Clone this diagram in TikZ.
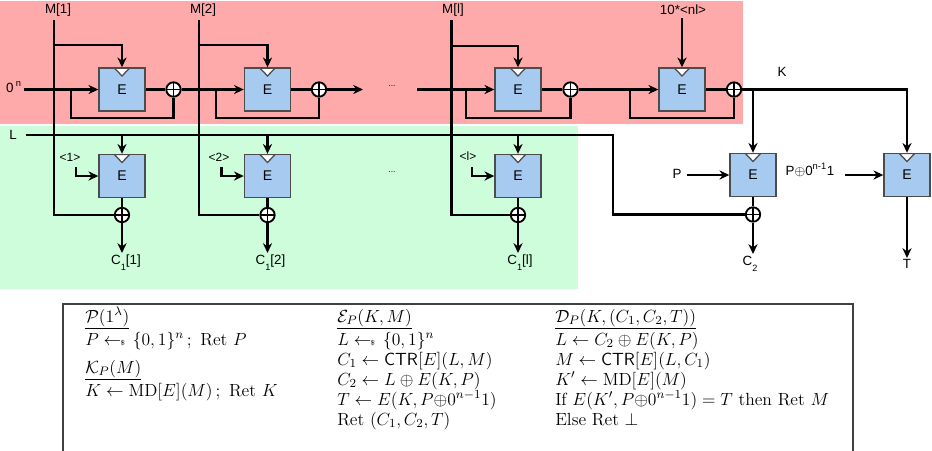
\RequirePackage{fix-cm}
\documentclass[tikz,border=0pt]{standalone}
\usepackage{amsmath,amssymb}
\usepackage{fontspec}
\usepackage{tikz}
\usetikzlibrary{arrows.meta}
\newfontfamily\diagfont{Liberation Sans}
\definecolor{mdred}{RGB}{255,170,170}
\definecolor{ctrgreen}{RGB}{206,253,220}
\definecolor{eblue}{RGB}{166,202,240}
\newcommand{\getsrand}{\mathrel{\leftarrow\!\!\mbox{\tiny\$}\,}}
\newcommand{\sub}[1]{\raisebox{-0.9ex}{\fontsize{6.5}{7}\selectfont #1}}
\newcommand{\algtitle}[1]{\underline{\smash[b]{#1}\vphantom{\rule[-3pt]{0pt}{1pt}}}}

\tikzset{
  ebox/.style={draw=black!70, fill=eblue, line width=1pt,
    minimum width=1.15cm, minimum height=1.075cm,
    font=\diagfont\fontsize{10}{12}\selectfont,
    path picture={\draw[fill=white, line width=0.9pt]
      ([xshift=-0.19cm]path picture bounding box.north) --
      ([xshift=0.19cm]path picture bounding box.north) --
      ([yshift=-0.2cm]path picture bounding box.north) -- cycle;}},
  xorop/.style={circle, draw, fill=white, line width=1.3pt, inner sep=0pt,
    minimum size=0.36cm,
    path picture={\draw[line width=1.3pt]
      (path picture bounding box.north) -- (path picture bounding box.south)
      (path picture bounding box.west) -- (path picture bounding box.east);}},
  lbl/.style={font=\diagfont\fontsize{9.5}{11}\selectfont, inner sep=1pt},
  cnt/.style={font=\diagfont\fontsize{8.5}{10}\selectfont, inner sep=1pt},
  tbl/.style={anchor=base west, inner sep=0pt, font=\fontsize{12.5}{15}\selectfont}
}

\begin{document}
\begin{tikzpicture}[x=0.025cm,y=-0.025cm]
\useasboundingbox (0,0) rectangle (932,450);

% backgrounds
\fill[mdred] (0,1) rectangle (743,124);
\fill[ctrgreen] (0,126) rectangle (578,289);

\begin{scope}
	% MD chain
	\node[ebox] (md1) at (122,89.5) {E};
	\node[ebox] (md2) at (267.5,89.5) {E};
	\node[ebox] (mdl) at (518,89.5) {E};
	\node[ebox] (mdf) at (682,89.5) {E};
	\node[xorop] (xm1) at (173.5,89.5) {};
	\node[xorop] (xm2) at (319,89.5) {};
	\node[xorop] (xml) at (570.5,89.5) {};
	\node[xorop] (xmf) at (734,89.5) {};

	% CTR part
	\node[ebox] (ct1) at (122,176) {E};
	\node[ebox] (ct2) at (267.5,176) {E};
	\node[ebox] (ctl) at (518,176) {E};
	\node[xorop] (xc1) at (122,215) {};
	\node[xorop] (xc2) at (267.5,215) {};
	\node[xorop] (xcl) at (518,215) {};

	% key wrap and tag
	\node[ebox] (ep) at (753,175) {E};
	\node[ebox] (et) at (907,175) {E};
	\node[xorop] (xp) at (753,214.5) {};

	% labels
	\node[lbl] (m1) at (58,10) {M[1]};
	\node[lbl] (m2) at (203,10) {M[2]};
	\node[lbl] (ml) at (453,10) {M[l]};
	\node[lbl] (pad) at (683,10) {10*<nl>};
	\node[lbl] (zero) at (14,87) {0\,\textsuperscript{n}};
	\node[lbl] (ll) at (13,135) {L};
	\node[cnt] (n1) at (70,157) {<1>};
	\node[cnt] (n2) at (219,157) {<2>};
	\node[cnt] (nl) at (468,156) {<l>};
	\node[cnt] (dt) at (392,86) {\fontsize{6}{7}\selectfont ...};
	\node[cnt] (db) at (392,172) {\fontsize{6}{7}\selectfont ...};
	\node[lbl] (kl) at (782,72) {K};
	\node[lbl] (pl) at (677,174) {P};
	\node[lbl] (ppad) at (810,170) {P$\oplus$0\textsuperscript{n-1}1};
	\node[lbl, anchor=north] (o1) at (126,253) {C\sub{1}[1]};
	\node[lbl, anchor=north] (o2) at (270.5,253) {C\sub{1}[2]};
	\node[lbl, anchor=north] (ol) at (520,253) {C\sub{1}[l]};
	\node[lbl, anchor=north] (oc2) at (750,254) {C\sub{2}};
	\node[lbl, anchor=north] (ot) at (907,258) {T};

	% free ends
	\coordinate (m1t) at (54,20);
	\coordinate (m2t) at (199,20);
	\coordinate (mlt) at (451.5,20);
	\coordinate (m1b) at (54,45);
	\coordinate (m2b) at (199,45);
	\coordinate (mlb) at (451.5,46);
	\coordinate (padt) at (682,18);
	\coordinate (in0) at (24,89.5);
	\coordinate (fb1) at (71,89.5);
	\coordinate (fb2) at (216,89.5);
	\coordinate (fb3) at (466,89.5);
	\coordinate (fb4) at (630,89.5);
	\coordinate (da) at (363,89.5);
	\coordinate (dbb) at (417,89.5);
	\coordinate (lin) at (26,135);
	\coordinate (lturn) at (613,135);
	\coordinate (c1b) at (76,167);
	\coordinate (c2b) at (221.5,167);
	\coordinate (clb) at (472,167);
	\coordinate (pin) at (687,175);
	\coordinate (ppin) at (845,175);
\end{scope}

\begin{scope}[>={Stealth[length=7pt,width=6.5pt]}, line width=1.5pt,
  every edge/.style={draw=black, line width=1.5pt}]

	% MD chain
	\path [->] (in0) edge (md1.west);
	\path [->] (padt) edge (mdf.north);
	\path (md1) edge (xm1);
	\path (md2) edge (xm2);
	\path (mdl) edge (xml);
	\path (mdf) edge (xmf);
	\path [->] (xm1) edge (md2);
	\path [->] (xm2) edge (da);
	\path [->] (dbb) edge (mdl.west);
	\path [->] (xml) edge (mdf);
	\draw (fb1) -- ++(0,28.5) -| (xm1.south);
	\draw (fb2) -- ++(0,28.5) -| (xm2.south);
	\draw (fb3) -- ++(0,28.5) -| (xml.south);
	\draw (fb4) -- ++(0,28.5) -| (xmf.south);

	% message blocks
	\draw (m1t) |- (xc1.west);
	\draw (m2t) |- (xc2.west);
	\draw (mlt) |- (xcl.west);
	\draw [->] (m1b) -| (md1.north);
	\draw [->] (m2b) -| (md2.north);
	\draw [->] (mlb) -| (mdl.north);

	% counter mode
	\draw (lin) -- (lturn) |- (xp.west);
	\path [->] (lin -| ct1.north) edge (ct1.north);
	\path [->] (lin -| ct2.north) edge (ct2.north);
	\path [->] (lin -| ctl.north) edge (ctl.north);
	\draw [->] (c1b) |- (ct1.west);
	\draw [->] (c2b) |- (ct2.west);
	\draw [->] (clb) |- (ctl.west);
	\path (ct1) edge (xc1);
	\path (ct2) edge (xc2);
	\path (ctl) edge (xcl);
	\path [->] (xc1.south) edge (o1.north -| xc1.south);
	\path [->] (xc2.south) edge (o2.north -| xc2.south);
	\path [->] (xcl.south) edge (ol.north -| xcl.south);

	% key K
	\draw [->] (xmf.east) -| (et.north);
	\path [->] (xmf.east -| ep.north) edge (ep.north);
	\path [->] (pin) edge (ep.west);
	\path [->] (ppin) edge (et.west);
	\path (ep) edge (xp);
	\path [->] (xp.south) edge (oc2.north -| xp.south);
	\path [->] (et.south) edge (ot.north);
\end{scope}

% algorithms
\draw[black!75, line width=0.8pt] (63,304) rectangle (853,456);
\node[tbl] (a1) at (85,322) {$\algtitle{\mathcal{P}(1^\lambda)}$};
\node[tbl] (a2) at (85,345) {$P \getsrand \{0,1\}^n\,;\ \mathrm{Ret}\ P$};
\node[tbl] (a3) at (85,373) {$\algtitle{\mathcal{K}_P(M)}$};
\node[tbl] (a4) at (85,396) {$K \leftarrow \mathrm{MD}[E](M)\,;\ \mathrm{Ret}\ K$};

\node[tbl] (b1) at (337,322) {$\algtitle{\mathcal{E}_P(K,M)}$};
\node[tbl] (b2) at (337,345) {$L \getsrand \{0,1\}^n$};
\node[tbl] (b3) at (337,365) {$C_1 \leftarrow \mathsf{CTR}[E](L,M)$};
\node[tbl] (b4) at (337,385) {$C_2 \leftarrow L \oplus E(K,P)$};
\node[tbl] (b5) at (337,405) {$T \leftarrow E(K,P{\oplus}0^{n-1}1)$};
\node[tbl] (b6) at (337,425) {Ret $(C_1,C_2,T)$};

\node[tbl] (d1) at (555,322) {$\algtitle{\mathcal{D}_P(K,(C_1,C_2,T))}$};
\node[tbl] (d2) at (555,345) {$L \leftarrow C_2 \oplus E(K,P)$};
\node[tbl] (d3) at (555,365) {$M \leftarrow \mathsf{CTR}[E](L,C_1)$};
\node[tbl] (d4) at (555,385) {$K' \leftarrow \mathrm{MD}[E](M)$};
\node[tbl] (d5) at (555,405) {If $E(K',P{\oplus}0^{n-1}1) = T$ then Ret $M$};
\node[tbl] (d6) at (555,425) {Else Ret $\bot$};

\end{tikzpicture}
\end{document}
